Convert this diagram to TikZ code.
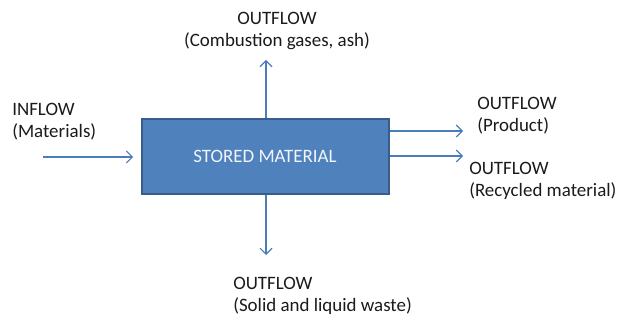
\documentclass[tikz,border=0pt]{standalone}
\usepackage{fontspec}
\setmainfont{Carlito}
\usetikzlibrary{arrows.meta}
\definecolor{boxfill}{HTML}{4F81BD}
\definecolor{boxline}{HTML}{385D8A}
\definecolor{flow}{HTML}{4A7EBB}
\definecolor{labeltext}{HTML}{1A1A1A}
\begin{document}
\begin{tikzpicture}[x=0.75pt,y=-0.75pt,
  store/.style={draw=boxline, line width=1.5pt, fill=boxfill, text=white!92!boxfill,
    minimum width=185.25pt, minimum height=56.25pt, inner sep=0pt,
    font=\fontsize{14.2}{16.5}\selectfont},
  flowarrow/.style={draw=flow, line width=0.8pt, -{Straight Barb[length=4.5pt,width=9pt,line width=0.8pt]}},
  lbl/.style={text=labeltext, inner sep=0pt, font=\fontsize{14.2}{16.5}\selectfont},
]
\useasboundingbox (0,0) rectangle (618,320);

% central stock
\node[store] (box) at (265,156.5) {STORED MATERIAL};

% free ends of the flows
\coordinate (inStart) at (43,157);
\coordinate (upEnd) at (266,60);
\coordinate (downEnd) at (266,255);
\coordinate (prodEnd) at (463,131);
\coordinate (recEnd) at (463,156);

% flows
\draw[flowarrow, shorten >=5.5pt] (inStart) -- (inStart -| box.west);
\draw[flowarrow] (upEnd |- box.north) -- (upEnd);
\draw[flowarrow] (downEnd |- box.south) -- (downEnd);
\draw[flowarrow] (prodEnd -| box.east) -- (prodEnd);
\draw[flowarrow] (recEnd -| box.east) -- (recEnd);

% labels
\node[lbl, align=left, anchor=west] (inLbl) at (12,122) {INFLOW\\(Materials)};
\node[lbl, align=center] (upLbl) at (277,31) {OUTFLOW\\(Combustion gases, ash)};
\node[lbl, align=left, anchor=west] (downLbl) at (233,296) {OUTFLOW\\(Solid and liquid waste)};
\node[lbl, align=left, anchor=west] (prodLbl) at (477,116) {OUTFLOW\\(Product)};
\node[lbl, align=left, anchor=west] (recLbl) at (469,181) {OUTFLOW\\(Recycled material)};
\end{tikzpicture}
\end{document}
